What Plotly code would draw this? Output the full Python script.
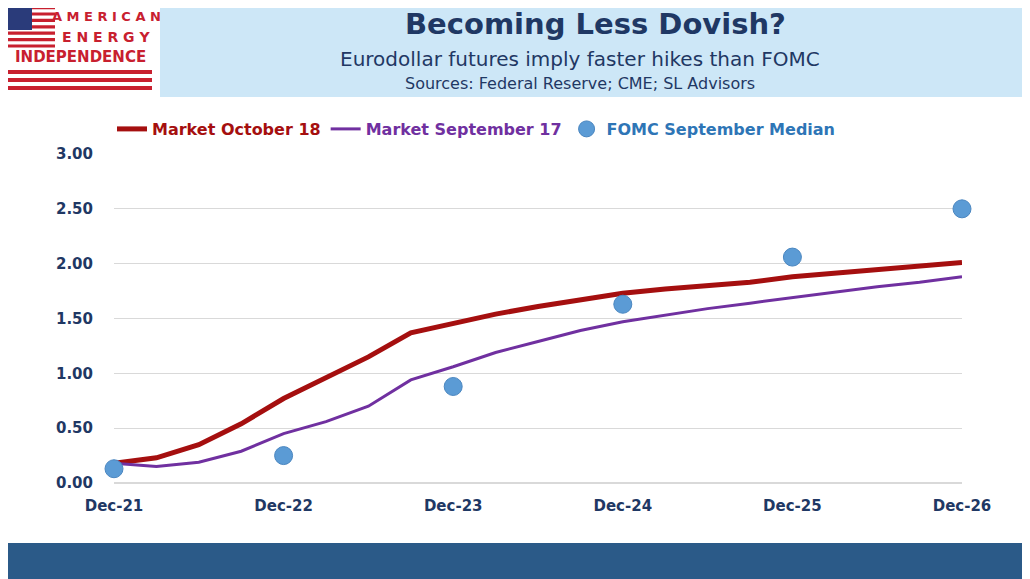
import plotly.graph_objects as go

quarters = list(range(21))
tick_pos = [0, 4, 8, 12, 16, 20]
tick_text = ["Dec-21", "Dec-22", "Dec-23", "Dec-24", "Dec-25", "Dec-26"]

market_oct18 = [0.18, 0.23, 0.35, 0.54, 0.77, 0.96, 1.15, 1.37, 1.46, 1.54, 1.61,
                1.67, 1.73, 1.77, 1.80, 1.83, 1.88, 1.91, 1.95, 1.97, 2.01]
market_sep17 = [0.18, 0.15, 0.19, 0.29, 0.45, 0.56, 0.70, 0.94, 1.06, 1.19, 1.29,
                1.39, 1.47, 1.53, 1.59, 1.64, 1.69, 1.74, 1.79, 1.83, 1.88]
fomc_x = [0, 4, 8, 12, 16, 20]
fomc_median = [0.13, 0.25, 0.88, 1.63, 2.06, 2.50]

OFF = 8  # page body margin
W, H = 1030 - OFF, 579 - OFF
L, R, T, B = 114, 962, 154, 483
NAVY = "#1F3864"


def px(x):
    return (x - L) / (R - L)


def py(y):
    return (B - y) / (B - T)


def note(text, x, y, size, color, xanchor="center"):
    return dict(text=text, x=px(x), y=py(y), xref="paper", yref="paper",
                xanchor=xanchor, yanchor="middle", showarrow=False,
                font=dict(size=size, color=color, family="DejaVu Sans"))


fig = go.Figure()
fig.add_trace(go.Scatter(x=quarters, y=market_oct18, mode="lines",
                         line=dict(color="#A50F0F", width=5),
                         name="<span style='color:#A50F0F'><b>Market October 18</b></span>"))
fig.add_trace(go.Scatter(x=quarters, y=market_sep17, mode="lines",
                         line=dict(color="#7030A0", width=3),
                         name="<span style='color:#7030A0'><b>Market September 17</b></span>"))
fig.add_trace(go.Scatter(x=fomc_x, y=fomc_median, mode="markers",
                         marker=dict(color="#5B9BD5", size=18, line=dict(color="#4A86C0", width=1)),
                         cliponaxis=False,
                         name="<span style='color:#2E75B6'><b>FOMC September Median</b></span>"))

shapes = []
shapes.append(dict(type="rect", xref="paper", yref="paper", x0=px(160), x1=px(1040),
                   y0=py(97), y1=py(-10), fillcolor="#CDE7F7", line=dict(width=0), layer="below"))
shapes.append(dict(type="rect", xref="paper", yref="paper", x0=px(-10), x1=px(1040),
                   y0=py(590), y1=py(543), fillcolor="#2B5A88", line=dict(width=0)))
for i in range(7):
    y0 = 6 + i * 6.4
    shapes.append(dict(type="rect", xref="paper", yref="paper", x0=px(8), x1=px(55),
                       y0=py(y0 + 3.2), y1=py(y0), fillcolor="#C8202F", line=dict(width=0)))
shapes.append(dict(type="rect", xref="paper", yref="paper", x0=px(8), x1=px(32),
                   y0=py(30), y1=py(6), fillcolor="#2A3B7A", line=dict(width=0)))
for i in range(3):
    y0 = 70 + i * 8
    shapes.append(dict(type="rect", xref="paper", yref="paper", x0=px(8), x1=px(152),
                       y0=py(y0 + 4), y1=py(y0), fillcolor="#C8202F", line=dict(width=0)))

annotations = [
    note("<b>Becoming Less Dovish?</b>", 595, 24, 29, NAVY),
    note("Eurodollar futures imply faster hikes than FOMC", 580, 59, 20, NAVY),
    note("Sources: Federal Reserve; CME; SL Advisors", 580, 84, 16, NAVY),
    note("<b>A M E R I C A N</b>", 106, 16, 13, "#C8202F"),
    note("<b>E N E R G Y</b>", 106, 37, 14, "#C8202F"),
    note("<b>INDEPENDENCE</b>", 80, 57, 15, "#C8202F"),
]

fig.update_layout(
    width=W, height=H,
    paper_bgcolor="white", plot_bgcolor="white",
    margin=dict(l=L - OFF, r=W - (R - OFF), t=T - OFF, b=H - (B - OFF)),
    shapes=shapes, annotations=annotations,
    showlegend=True,
    legend=dict(orientation="h", x=px(112), y=py(112), xanchor="left", yanchor="top",
                font=dict(size=16, family="DejaVu Sans"), itemwidth=30,
                bgcolor="rgba(0,0,0,0)"),
    xaxis=dict(range=[0, 20], tickvals=tick_pos, ticktext=tick_text, showgrid=False,
               zeroline=False, showline=False, ticks="",
               tickfont=dict(size=15, color=NAVY, family="DejaVu Sans"), ticklabelstandoff=12),
    yaxis=dict(range=[0, 3], dtick=0.5, tickformat=".2f", showgrid=True,
               gridcolor="#D9D9D9", zeroline=True, zerolinecolor="#D9D9D9",
               ticks="", tickfont=dict(size=15, color=NAVY, family="DejaVu Sans"),
               ticklabelstandoff=20),
)
fig.update_xaxes(tickfont_weight="bold")
fig.update_yaxes(tickfont_weight="bold")

fig.write_html("out.html")
